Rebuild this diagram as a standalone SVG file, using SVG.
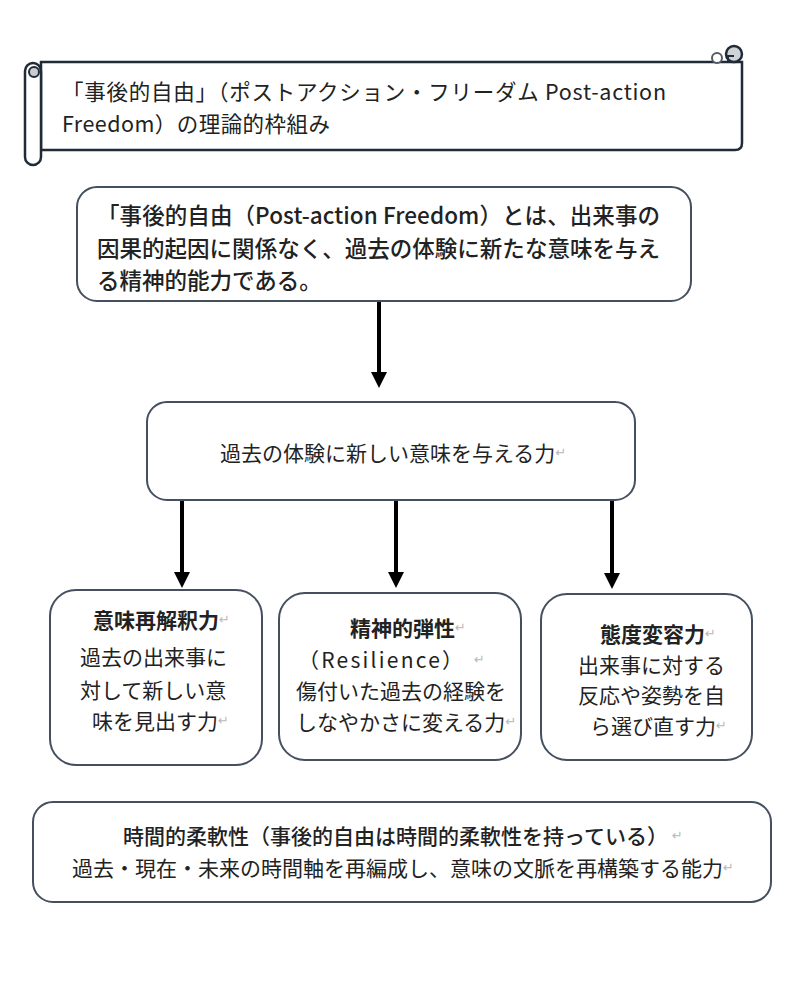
<svg xmlns="http://www.w3.org/2000/svg" width="800" height="995" viewBox="0 0 800 995">
<defs>
<style>
.t{font-family:"Noto Sans CJK JP","Noto Sans CJK SC",sans-serif;fill:#222;dominant-baseline:central}
.b{font-weight:bold}
.box{fill:#fff;stroke:#44505f;stroke-width:2}
.scroll{fill:#fff;stroke:#1f2b36;stroke-width:2.5}
.pm{font-family:"DejaVu Sans",sans-serif;fill:#b8b8b8;font-size:13px;font-weight:normal}
.arr{stroke:#000;stroke-width:4;fill:none}
</style>
<marker id="ah" markerUnits="userSpaceOnUse" markerWidth="18" markerHeight="18" refX="2" refY="8" orient="auto">
<path d="M0,0 L16,8 L0,16 Z" fill="#000"/>
</marker>
</defs>
<rect width="800" height="995" fill="#fff"/>

<g id="title">
<path class="scroll" d="M41,62 H742 V143 Q742,150 735,150 H41 Z"/>
<rect class="scroll" x="25" y="63" width="16" height="102" rx="8"/>
<circle cx="34" cy="72" r="5" fill="#c9ccd0" stroke="#1f2b36" stroke-width="2"/>
<circle cx="717" cy="58" r="5" fill="#fff" stroke="#555c66" stroke-width="2"/>
<circle cx="734" cy="54" r="8" fill="#cfd2d6" stroke="#1f2b36" stroke-width="2.5"/>
<path d="M728,62 V56 H734" fill="none" stroke="#1f2b36" stroke-width="2"/>
<text class="t" x="62" y="90" font-size="21.5" textLength="604">「事後的自由」（ポストアクション・フリーダム Post-action</text>
<text class="t" x="62" y="122" font-size="21.5" textLength="268">Freedom）の理論的枠組み</text>
</g>

<g id="definition">
<rect class="box" x="77" y="187" width="614" height="114" rx="20"/>
<text class="t" x="97" y="214" font-size="22.5" font-weight="500" textLength="563">「事後的自由（Post-action Freedom）とは、出来事の</text>
<text class="t" x="97" y="247" font-size="22.5" font-weight="500" textLength="563">因果的起因に関係なく、過去の体験に新たな意味を与え</text>
<text class="t" x="97" y="279" font-size="22.5" font-weight="500">る精神的能力である。</text>
</g>

<g id="core">
<rect class="box" x="147" y="402" width="488" height="98" rx="20"/>
<text class="t" x="220" y="452" font-size="21">過去の体験に新しい意味を与える力<tspan class="pm">↵</tspan></text>
</g>

<g id="reinterpretation">
<rect class="box" x="50" y="590" width="212" height="175" rx="26"/>
<text class="t b" x="93" y="619" font-size="21">意味再解釈力<tspan class="pm">↵</tspan></text>
<text class="t" x="80" y="656" font-size="21">過去の出来事に</text>
<text class="t" x="80" y="689" font-size="21">対して新しい意</text>
<text class="t" x="92" y="720" font-size="21">味を見出す力<tspan class="pm">↵</tspan></text>
</g>

<g id="resilience">
<rect class="box" x="279" y="593" width="242" height="167" rx="26"/>
<text class="t b" x="350" y="627" font-size="21">精神的弾性<tspan class="pm">↵</tspan></text>
<text class="t" x="298" y="659" font-size="21" textLength="165">（Resilience）</text>
<text class="t pm" x="474" y="659">↵</text>
<text class="t" x="296" y="690" font-size="21">傷付いた過去の経験を</text>
<text class="t" x="296" y="721" font-size="21">しなやかさに変える力<tspan class="pm">↵</tspan></text>
</g>

<g id="attitude">
<rect class="box" x="541" y="594" width="211" height="166" rx="26"/>
<text class="t b" x="600" y="633" font-size="21">態度変容力<tspan class="pm">↵</tspan></text>
<text class="t" x="578" y="664" font-size="21">出来事に対する</text>
<text class="t" x="578" y="694" font-size="21">反応や姿勢を自</text>
<text class="t" x="590" y="725" font-size="21">ら選び直す力<tspan class="pm">↵</tspan></text>
</g>

<g id="temporal">
<rect class="box" x="33" y="802" width="738" height="100" rx="20"/>
<text class="t" x="123" y="835" font-size="21" font-weight="500">時間的柔軟性（事後的自由は時間的柔軟性を持っている）<tspan class="pm" dx="4">↵</tspan></text>
<text class="t" x="72" y="867" font-size="21">過去・現在・未来の時間軸を再編成し、意味の文脈を再構築する能力<tspan class="pm">↵</tspan></text>
</g>

<g id="connectors">
<line class="arr" x1="379" y1="302" x2="379" y2="374" marker-end="url(#ah)"/>
<line class="arr" x1="182" y1="501" x2="182" y2="574" marker-end="url(#ah)"/>
<line class="arr" x1="396" y1="501" x2="396" y2="574" marker-end="url(#ah)"/>
<line class="arr" x1="612" y1="501" x2="612" y2="575" marker-end="url(#ah)"/>
</g>
</svg>
